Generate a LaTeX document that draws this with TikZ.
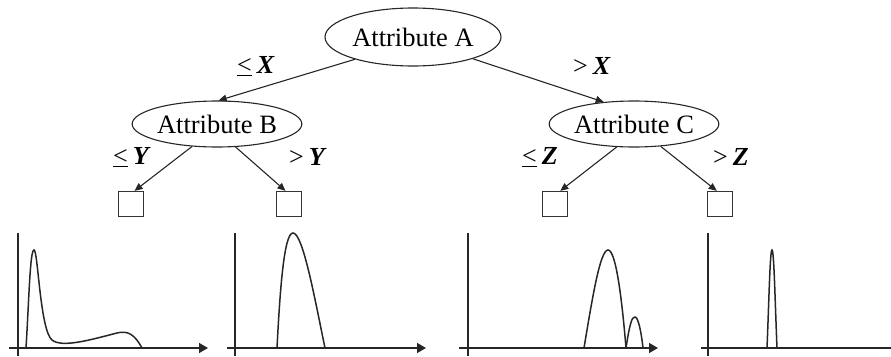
\documentclass[tikz,border=0pt]{standalone}
\usepackage{fontspec}
\setmainfont{Liberation Serif}
\usetikzlibrary{arrows.meta,calc,shapes.geometric}
\begin{document}
\begin{tikzpicture}[x=1pt,y=-1pt,
  attr/.style={draw=black!85, ellipse, line width=1.1pt, inner sep=0pt, font=\fontsize{26.5}{30}\selectfont},
  leaf/.style={draw=black!80, rectangle, minimum size=25pt, inner sep=0pt, line width=1.3pt},
  conn/.style={draw=black!85, line width=1.1pt, -{Triangle[length=8pt,width=7pt]}},
  lbl/.style={font=\fontsize{26}{30}\selectfont, inner sep=0pt},
  axis/.style={draw=black!85, line width=1.4pt},
  axarrow/.style={axis, -{Triangle[length=9pt,width=10pt]}},
  curve/.style={draw=black!85, line width=1.5pt}]
\useasboundingbox (0,0) rectangle (891,356);

% tree
\node[attr, minimum width=176pt, minimum height=58pt] (A) at (413,37) {Attribute A};
\node[attr, minimum width=148pt, minimum height=46pt] (B) at (217,124) {Attribute B};
\node[attr, minimum width=152pt, minimum height=46pt] (C) at (634,124) {Attribute C};

\node[leaf] (b1) at (131,204) {};
\node[leaf] (b2) at (289,204) {};
\node[leaf] (b3) at (555,204) {};
\node[leaf] (b4) at (720,204) {};

\draw[conn] (A.201) -- (B.86);
\draw[conn] (A.340) -- (C.144);
\draw[conn] (B.222) -- (b1.75);
\draw[conn] (B.309) -- (b2.105);
\draw[conn] (C.233) -- (b3.68);
\draw[conn] (C.320) -- (b4.104);

\node[lbl] (lx1) at (256,66) {\underline{<}\hspace{5pt}\textbf{\textit{X}}};
\node[lbl] (lx2) at (592,66) {>\hspace{5pt}\textbf{\textit{X}}};
\node[lbl] (ly1) at (132,157) {\underline{<}\hspace{5pt}\textbf{\textit{Y}}};
\node[lbl] (ly2) at (308,157) {>\hspace{5pt}\textbf{\textit{Y}}};
\node[lbl] (lz1) at (540,157) {\underline{<}\hspace{5pt}\textbf{\textit{Z}}};
\node[lbl] (lz2) at (731,157) {>\hspace{5pt}\textbf{\textit{Z}}};

% plot 1
\draw[axis] (18,233) -- (18,356);
\draw[axarrow] (9,348) -- (208,348);
\draw[curve] (26,348) .. controls (29,300) and (30,250) .. (34,250)
  .. controls (38,250) and (40,330) .. (52,340)
  .. controls (62,348) and (90,340) .. (117,333)
  .. controls (128,330) and (135,335) .. (142,348);

% plot 2
\draw[axis] (235,233) -- (235,356);
\draw[axarrow] (227,348) -- (426,348);
\draw[curve] (277,348) .. controls (280,290) and (284,233) .. (293,233)
  .. controls (303,233) and (315,300) .. (325,348);

% plot 3
\draw[axis] (468,233) -- (468,356);
\draw[axarrow] (459,348) -- (658,348);
\draw[curve] (584,348) .. controls (592,300) and (600,250) .. (608,250)
  .. controls (616,250) and (622,300) .. (626,348);
\draw[curve] (626,348) .. controls (630,322) and (632,317) .. (635,317)
  .. controls (638,317) and (641,330) .. (643,348);

% plot 4
\draw[axis] (708,233) -- (708,356);
\draw[axis] (701,348) -- (891,348);
\draw[curve] (767,348) .. controls (769,300) and (770,250) .. (772,250)
  .. controls (774,250) and (775,300) .. (777,348);
\end{tikzpicture}
\end{document}
